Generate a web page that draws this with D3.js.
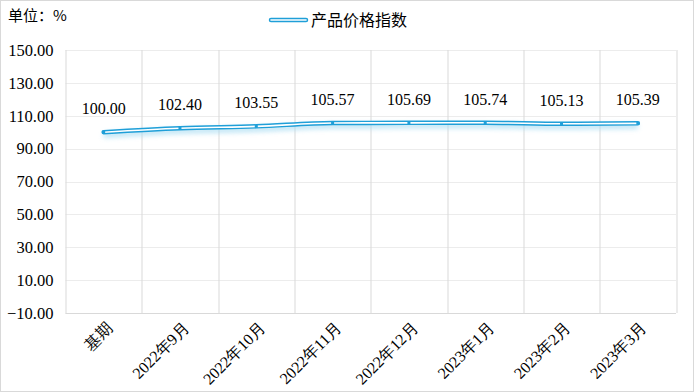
<!DOCTYPE html>
<html>
<head>
<meta charset="utf-8">
<script src="https://cdn.jsdelivr.net/npm/d3@7"></script>
<style>
  body { margin: 0; background: #fff; }
  svg { display: block; }
</style>
</head>
<body>
<div id="chart"></div>
<script>
var svgWidth = 694;
var svgHeight = 392;

var margin = { top: 50, right: 18, bottom: 79, left: 65.5 };
var width = svgWidth - margin.left - margin.right;
var height = svgHeight - margin.top - margin.bottom;

// data
var categories = ["基期", "2022年9月", "2022年10月", "2022年11月", "2022年12月", "2023年1月", "2023年2月", "2023年3月"];
var priceIndex = [100.00, 102.40, 103.55, 105.57, 105.69, 105.74, 105.13, 105.39];
var yTicks = [-10, 10, 30, 50, 70, 90, 110, 130, 150];

var svg = d3.select("#chart")
  .append("svg")
  .attr("width", svgWidth)
  .attr("height", svgHeight);

// outer border
svg.append("rect")
  .attr("x", 0.5).attr("y", 0.5)
  .attr("width", svgWidth - 1).attr("height", svgHeight - 1)
  .attr("fill", "#fff")
  .attr("stroke", "#d9d9d9");

var defs = svg.append("defs");
var glow = defs.append("filter").attr("id", "glow")
  .attr("x", "-10%").attr("y", "-100%").attr("width", "120%").attr("height", "400%");
glow.append("feGaussianBlur").attr("in", "SourceGraphic").attr("stdDeviation", 2.5);

var chartGroup = svg.append("g")
  .attr("transform", `translate(${margin.left}, ${margin.top})`);

var xBand = d3.scaleBand()
  .domain(categories)
  .range([0, width]);

var yLinearScale = d3.scaleLinear()
  .domain([-10, 150])
  .range([height, 0]);

var xCenter = d => xBand(d) + xBand.bandwidth() / 2;

// horizontal gridlines
chartGroup.append("g")
  .selectAll("line")
  .data(yTicks)
  .enter()
  .append("line")
  .attr("x1", 0).attr("x2", width)
  .attr("y1", d => Math.round(yLinearScale(d)) + 0.5)
  .attr("y2", d => Math.round(yLinearScale(d)) + 0.5)
  .attr("stroke", "#ececec");

// vertical gridlines at band edges
var edges = categories.map(c => xBand(c)).concat([width]);
chartGroup.append("g")
  .selectAll("line")
  .data(edges)
  .enter()
  .append("line")
  .attr("x1", d => Math.round(d) + 0.5).attr("x2", d => Math.round(d) + 0.5)
  .attr("y1", 0).attr("y2", height)
  .attr("stroke", "#d9d9d9");

// bottom axis line
chartGroup.append("line")
  .attr("x1", 0).attr("x2", width)
  .attr("y1", Math.round(height) + 0.5).attr("y2", Math.round(height) + 0.5)
  .attr("stroke", "#d9d9d9");

// y axis labels
var leftAxis = d3.axisLeft(yLinearScale)
  .tickValues(yTicks)
  .tickSize(0)
  .tickPadding(12)
  .tickFormat(d3.format(".2f"));

var yAxisG = chartGroup.append("g").call(leftAxis);
yAxisG.select(".domain").remove();
yAxisG.selectAll("text")
  .attr("font-family", "'Liberation Serif', 'Times New Roman', serif")
  .attr("font-size", 16.5)
  .attr("fill", "#000");

// x axis labels (rotated)
chartGroup.append("g")
  .selectAll("text")
  .data(categories)
  .enter()
  .append("text")
  .attr("transform", d => `translate(${xCenter(d) + 2}, ${height + 8}) rotate(-45)`)
  .attr("text-anchor", "end")
  .attr("dy", "0.7em")
  .attr("font-family", "'Liberation Serif', 'Times New Roman', serif")
  .attr("font-size", 16)
  .attr("fill", "#000")
  .text(d => d);

// line
var lineGen = d3.line()
  .x((d, i) => xCenter(categories[i]))
  .y(d => yLinearScale(d))
  .curve(d3.curveMonotoneX);

chartGroup.append("path")
  .datum(priceIndex)
  .attr("d", lineGen)
  .attr("transform", "translate(0,3)")
  .attr("fill", "none")
  .attr("stroke", "#a8dcf2")
  .attr("stroke-width", 5)
  .attr("opacity", 0.8)
  .attr("filter", "url(#glow)");

chartGroup.append("path")
  .datum(priceIndex)
  .attr("d", lineGen)
  .attr("fill", "none")
  .attr("stroke", "#1f9fd8")
  .attr("stroke-width", 4.5)
  .attr("stroke-linecap", "round");

chartGroup.append("path")
  .datum(priceIndex)
  .attr("d", lineGen)
  .attr("fill", "none")
  .attr("stroke", "#ffffff")
  .attr("stroke-width", 1.6)
  .attr("stroke-linecap", "round");

// markers
chartGroup.append("g")
  .selectAll("rect")
  .data(priceIndex)
  .enter()
  .append("rect")
  .attr("x", (d, i) => xCenter(categories[i]) - 1.5)
  .attr("y", d => yLinearScale(d) - 1.5)
  .attr("width", 3).attr("height", 3)
  .attr("fill", "#1f9fd8");

// value labels
chartGroup.append("g")
  .selectAll("text")
  .data(priceIndex)
  .enter()
  .append("text")
  .attr("x", (d, i) => xCenter(categories[i]))
  .attr("y", d => yLinearScale(d) - 18)
  .attr("text-anchor", "middle")
  .attr("font-family", "'Liberation Serif', 'Times New Roman', serif")
  .attr("font-size", 16)
  .attr("fill", "#000")
  .text(d => d3.format(".2f")(d));

// unit title
svg.append("text")
  .attr("x", 8).attr("y", 21)
  .attr("font-family", "'Noto Sans CJK SC', sans-serif")
  .attr("font-size", 15)
  .attr("fill", "#000")
  .text("单位：%");

// legend
var legend = svg.append("g").attr("transform", "translate(270, 20)");
legend.append("line")
  .attr("x1", 1).attr("x2", 36).attr("y1", 0).attr("y2", 0)
  .attr("stroke", "#1f9fd8").attr("stroke-width", 4.5).attr("stroke-linecap", "round");
legend.append("line")
  .attr("x1", 1).attr("x2", 36).attr("y1", 0).attr("y2", 0)
  .attr("stroke", "#fff").attr("stroke-width", 1.6).attr("stroke-linecap", "round");
legend.append("text")
  .attr("x", 41).attr("y", 0)
  .attr("dy", "0.35em")
  .attr("font-family", "'Noto Sans CJK SC', sans-serif")
  .attr("font-size", 16)
  .attr("fill", "#000")
  .text("产品价格指数");
</script>
</body>
</html>
